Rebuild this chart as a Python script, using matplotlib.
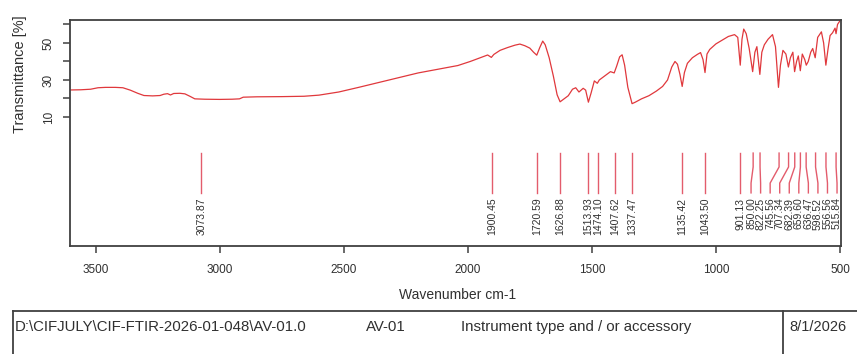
import numpy as np
import matplotlib.pyplot as plt
from matplotlib.lines import Line2D

plt.rcParams['font.family'] = ['Liberation Sans', 'DejaVu Sans']

# FTIR spectrum (wavenumber in cm-1, transmittance in %)
wavenumber = [3600, 3560, 3520, 3490, 3460, 3420, 3390, 3360, 3330, 3305,
              3270, 3240, 3225, 3210, 3198, 3185, 3160, 3140, 3120, 3100,
              3060, 3000, 2950, 2920, 2905, 2850, 2750, 2660, 2600, 2520,
              2440, 2360, 2280, 2200, 2120, 2040, 1990, 1950, 1920, 1905,
              1895, 1870, 1840, 1810, 1790, 1770, 1750, 1735, 1722, 1710,
              1698, 1688, 1672, 1655, 1640, 1628, 1612, 1595, 1578, 1565,
              1552, 1535, 1525, 1514, 1503, 1490, 1478, 1470, 1455, 1440,
              1425, 1410, 1400, 1388, 1378, 1368, 1355, 1338, 1325, 1300,
              1270, 1240, 1215, 1195, 1178, 1165, 1155, 1145, 1136, 1127,
              1115, 1095, 1075, 1062, 1052, 1044, 1036, 1025, 1000, 975,
              950, 925, 912, 902, 895, 888, 878, 866, 852, 843,
              835, 823, 815, 805, 790, 772, 760, 748, 740, 730,
              718, 708, 700, 690, 683, 675, 668, 660, 652, 642,
              636, 628, 618, 610, 600, 590, 575, 566, 557, 548,
              540, 530, 520, 516, 510, 500]
transmittance = [24.6, 24.7, 25.0, 25.8, 26.0, 26.0, 25.8, 24.5, 22.8, 21.6,
                 21.4, 21.6, 22.3, 22.6, 21.9, 22.7, 22.8, 22.5, 21.2, 19.8,
                 19.6, 19.5, 19.6, 19.8, 20.7, 20.9, 21.0, 21.2, 21.8, 23.5,
                 26.0, 28.6, 31.2, 33.8, 35.8, 37.8, 40.0, 42.0, 43.5, 42.2,
                 43.8, 46.0, 47.5, 48.8, 49.4, 48.5, 47.2, 45.0, 43.4, 47.5,
                 51.0, 49.0, 42.0, 32.0, 22.0, 18.2, 19.8, 21.5, 25.0, 25.8,
                 23.5, 25.5, 24.5, 18.0, 23.0, 29.5, 28.2, 30.0, 31.5, 33.0,
                 34.5, 33.8, 37.5, 42.5, 43.6, 38.0, 26.0, 17.2, 18.0, 19.8,
                 21.5, 24.0, 26.5, 30.0, 37.0, 40.0, 38.5, 33.0, 26.5, 34.0,
                 39.0, 42.0, 43.8, 44.8, 41.0, 34.0, 44.0, 46.5, 49.5, 51.5,
                 53.5, 54.5, 53.0, 38.0, 52.0, 57.5, 55.0, 47.0, 34.5, 45.0,
                 48.0, 33.0, 45.0, 49.0, 52.0, 54.5, 48.0, 26.0, 38.0, 46.0,
                 44.0, 37.0, 42.0, 45.0, 34.5, 40.0, 43.0, 35.0, 44.0, 41.0,
                 38.0, 40.0, 45.0, 47.0, 42.0, 53.0, 56.0, 50.0, 38.0, 47.0,
                 54.0, 55.5, 58.0, 55.0, 60.0, 62.0]

# picked peaks
peaks = [3073.87, 1900.45, 1720.59, 1626.88, 1513.93, 1474.10, 1407.62,
         1337.47, 1135.42, 1043.50, 901.13, 850.00, 822.25, 745.56, 707.34,
         682.39, 659.60, 636.47, 598.52, 556.56, 515.84]

y_ticks = [10, 20, 30, 40, 50, 60]
y_tick_labels = ['10', '', '30', '', '50', '']
x_ticks = [3500, 3000, 2500, 2000, 1500, 1000, 500]

file_name = r'D:\CIFJULY\CIF-FTIR-2026-01-048\AV-01.0'
sample_name = 'AV-01'
instrument = 'Instrument type and / or accessory'
date = '8/1/2026'

W, H = 857, 354
AXCOL = '#404040'
RED = '#e0383c'
PEAKCOL = '#e04a5c'


def spread(pos, gap, lo, hi):
    # push peak labels apart so they don't overlap
    p = np.array(pos, dtype=float)
    for _ in range(300):
        for i in range(len(p) - 1):
            d = p[i + 1] - p[i]
            if d < gap:
                s = (gap - d) / 2
                p[i] -= s
                p[i + 1] += s
        p = np.clip(p, lo, hi)
    return p


fig = plt.figure(figsize=(W / 100, H / 100), dpi=100)
ax = fig.add_axes([70 / W, 1 - 246 / H, 771 / W, 226 / H])

ax.plot(wavenumber, transmittance, color=RED, lw=0.9)

# peak markers with labels
order = np.argsort(peaks)
srt = np.array(peaks)[order]
lab = spread(srt, 38.5, 512, 3550)
for x0, xl in zip(srt, lab):
    ax.plot([x0, x0, xl, xl], [-9.5, -17, -25.7, -31], color=PEAKCOL,
            lw=1.0, alpha=0.9)
    ax.text(xl, -33.5, '%.2f' % x0, rotation=90, ha='center', va='top',
            fontsize=7.5, color='#303030')

ax.set_xlim(3603, 496)
ax.set_ylim(-59.7, 62.4)
ax.set_xticks(x_ticks)
ax.set_yticks(y_ticks)
ax.set_yticklabels(y_tick_labels, rotation=90, va='center')
ax.tick_params(axis='both', direction='out', length=5, width=1.1,
               color=AXCOL, labelsize=8.5, labelcolor='#303030')
ax.tick_params(axis='x', pad=8)
ax.tick_params(axis='y', pad=6)
for sp in ax.spines.values():
    sp.set_color(AXCOL)
    sp.set_linewidth(1.3)

fig.text(458 / W, 1 - 295 / H, 'Wavenumber cm-1', ha='center', va='center',
         fontsize=10, color='#303030')
fig.text(20 / W, 1 - 74 / H, 'Transmittance [%]', ha='center', va='center',
         rotation=90, fontsize=10.5, color='#303030')

# info box under the plot
def fline(x0, y0, x1, y1):
    fig.add_artist(Line2D([x0 / W, x1 / W], [1 - y0 / H, 1 - y1 / H],
                          color=AXCOL, lw=1.3, transform=fig.transFigure))


fline(12.7, 311, W + 5, 311)
fline(12.7, 311, 12.7, H + 5)
fline(782.7, 311, 782.7, H + 5)

ty = 1 - 327 / H
fig.text(15 / W, ty, file_name, va='center', fontsize=10.8, color='#303030')
fig.text(366 / W, ty, sample_name, va='center', fontsize=10.8, color='#303030')
fig.text(461 / W, ty, instrument, va='center', fontsize=10.8, color='#303030')
fig.text(789 / W, ty, date, va='center', fontsize=10.5, color='#303030')

fig.savefig('out.png', dpi=100)
